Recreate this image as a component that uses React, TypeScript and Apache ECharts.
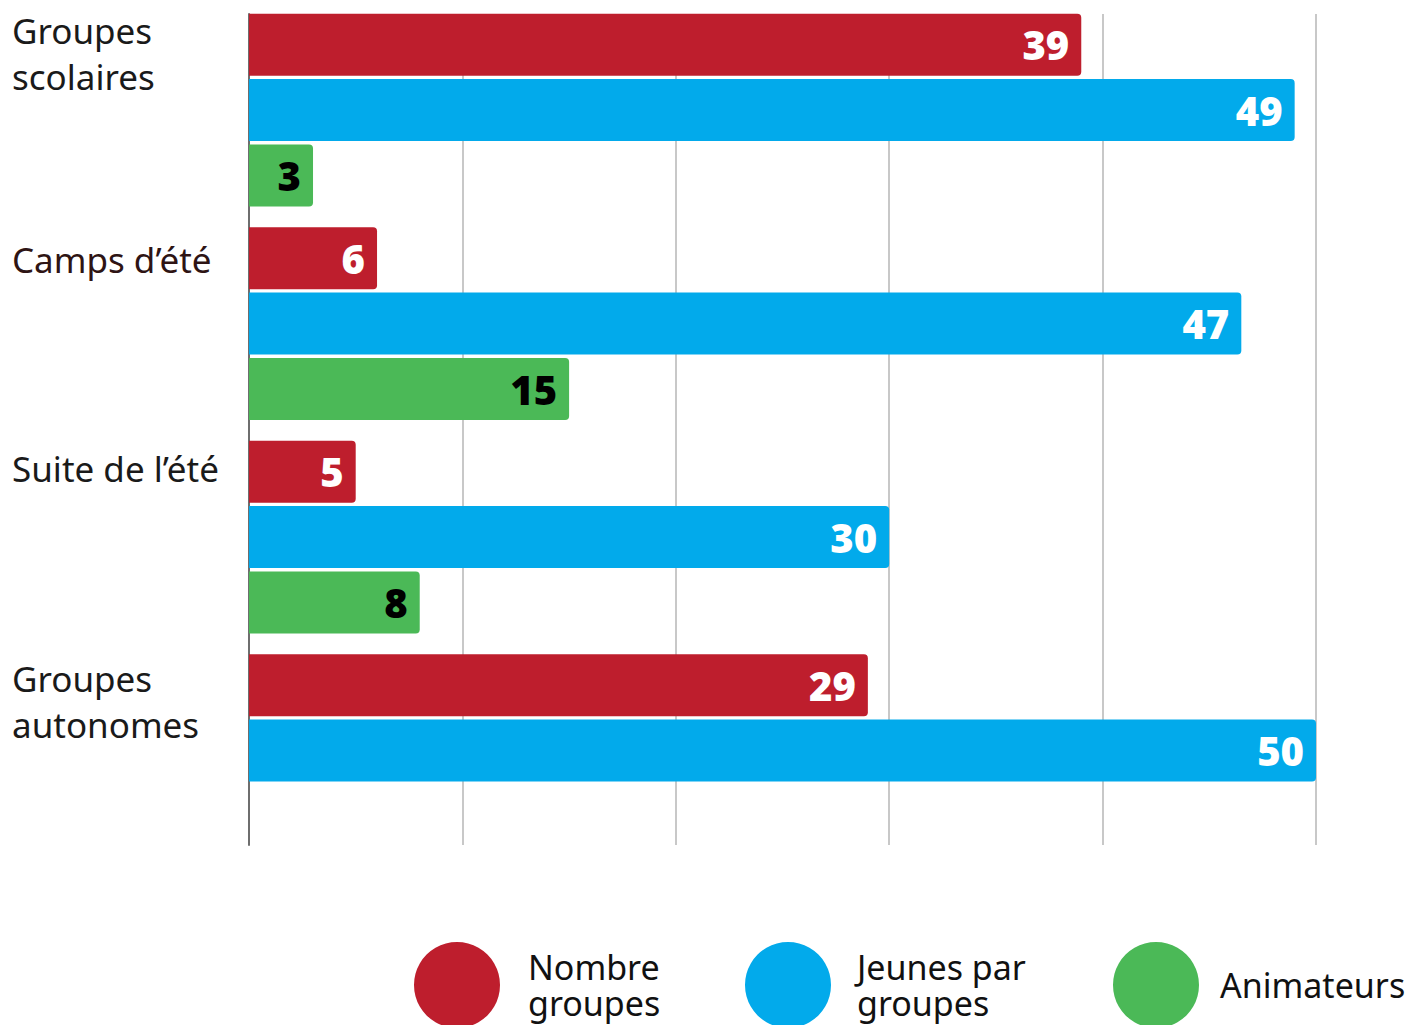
import React, { useEffect, useRef } from "react";
import * as echarts from "echarts";

const categories = ["Groupes\nscolaires", "Camps d’été", "Suite de l’été", "Groupes\nautonomes"];
const seriesNames = ["Nombre groupes", "Jeunes par groupes", "Animateurs"];
const legendLabels = ["Nombre\ngroupes", "Jeunes par\ngroupes", "Animateurs"];
const nombreGroupes = [39, 6, 5, 29];
const jeunesParGroupes = [49, 46.5, 30, 50];
const animateurs: (number | null)[] = [3, 15, 8, null];
const xTicks = { min: 0, max: 50, interval: 10 };

const colors = ["#BE1E2D", "#02AAEB", "#4BB957"];
const labelColors = ["#ffffff", "#ffffff", "#000000"];
const catColors = ["#1a1a1a", "#2e1414", "#1a1a1a", "#1a1a1a"];
const catFiller = [114, 129, 138, 99];
const legendTextGap = [23, 21, 16];

export default function App() {
  const ref = useRef<HTMLDivElement>(null);
  useEffect(() => {
    if (!ref.current) return;
    const chart = echarts.init(ref.current, null, { renderer: "svg" });
    const values = [nombreGroupes, jeunesParGroupes, animateurs];
    const rich: any = {};
    categories.forEach((_, i) => {
      rich["t" + i] = {
        color: catColors[i],
        fontFamily: "Noto Sans",
        fontSize: 35,
        lineHeight: 46,
        align: "left",
      };
      rich["g" + i] = { fontSize: 4, lineHeight: catFiller[i], height: catFiller[i] };
    });
    const option: any = {
      animation: false,
      backgroundColor: "#ffffff",
      grid: [
        { left: 249, right: 101, top: 3.35, bottom: 167.65, outerBoundsMode: "none", containLabel: false },
        { left: 249, right: 101, top: 14, bottom: 180, outerBoundsMode: "none", containLabel: false },
      ],
      xAxis: [
        {
          gridIndex: 0,
          type: "value",
          min: xTicks.min,
          max: xTicks.max,
          interval: xTicks.interval,
          axisLine: { show: false },
          axisTick: { show: false },
          axisLabel: { show: false },
          splitLine: { show: false },
        },
        {
          gridIndex: 1,
          type: "value",
          min: xTicks.min,
          max: xTicks.max,
          interval: xTicks.interval,
          axisLine: { show: false },
          axisTick: { show: false },
          axisLabel: { show: false },
          splitLine: { show: true, lineStyle: { color: "#c8c8c8", width: 2 } },
        },
      ],
      yAxis: [
        {
          gridIndex: 0,
          type: "category",
          inverse: true,
          data: categories,
          axisLine: { show: false },
          axisTick: { show: false },
          axisLabel: {
            align: "left",
            verticalAlign: "middle",
            margin: 237,
            fontFamily: "Noto Sans",
            fontSize: 35,
            lineHeight: 46,
            color: "#1a1a1a",
            formatter: (v: string, i: number) => `{t${i}|${v}}\n{g${i}| }`,
            rich,
          },
        },
        {
          gridIndex: 1,
          type: "value",
          min: 0,
          max: 1,
          axisLine: { show: true, lineStyle: { color: "#6e6e6e", width: 2 } },
          axisTick: { show: false },
          axisLabel: { show: false },
          splitLine: { show: false },
        },
      ],
      legend: seriesNames.map((n, i) => ({
        data: [n],
        left: [414, 745, 1113][i],
        top: 942,
        padding: 0,
        icon: "circle",
        itemWidth: 86,
        itemHeight: 86,
        selectedMode: false,
        formatter: () => legendLabels[i],
        textStyle: {
          fontFamily: "Noto Sans",
          fontSize: 34,
          lineHeight: 36,
          color: "#111111",
          padding: [6, 0, 0, legendTextGap[i]],
        },
      })),
      series: seriesNames.map((n, i) => ({
        name: n,
        type: "bar",
        xAxisIndex: 0,
        yAxisIndex: 0,
        data: values[i],
        barWidth: 62,
        barGap: "5.5%",
        itemStyle: { color: colors[i], borderRadius: [0, 4, 4, 0] },
        label: {
          show: true,
          position: "insideRight",
          distance: 12,
          color: labelColors[i],
          fontFamily: "Open Sans",
          fontWeight: 800,
          fontSize: 40,
          formatter: (p: any) => String(Math.round(p.value)),
        },
      })),
    };
    chart.setOption(option);
    return () => chart.dispose();
  }, []);
  return (
    <div
      ref={ref}
      style={{ position: "fixed", left: 0, top: 0, width: 1417, height: 1025 }}
    />
  );
}
